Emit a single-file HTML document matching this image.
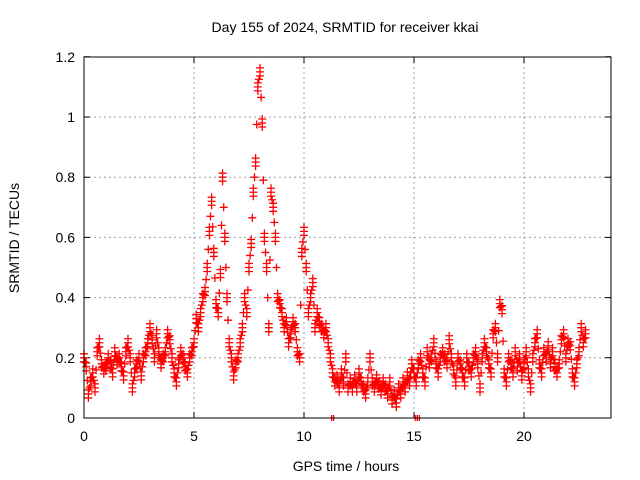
<!DOCTYPE html>
<html><head><meta charset="utf-8"><style>
body{margin:0;background:#fff}
svg{display:block;font-family:"Liberation Sans",sans-serif}
</style></head><body>
<svg id="chart" width="640" height="480" viewBox="0 0 640 480">
<rect width="640" height="480" fill="#fff"/>
<text x="345" y="32" font-size="14" text-anchor="middle">Day 155 of 2024, SRMTID for receiver kkai</text>
<text x="346" y="471" font-size="14" text-anchor="middle">GPS time / hours</text>
<text transform="translate(19,238) rotate(-90)" font-size="14" text-anchor="middle">SRMTID / TECUs</text>
<g id="grid"></g><g id="ticks"></g><g id="pts"></g>
<rect x="84" y="57" width="527" height="361" fill="none" stroke="#000" stroke-width="1"/>
</svg>
<script>
const xTicks=[0,5,10,15,20];
const yTicks=[0,0.2,0.4,0.6,0.8,1,1.2];
const yTickLabels=["0","0.2","0.4","0.6","0.8","1","1.2"];
const startHour=0;
const stepHours=0.1;
const values=[
0.2,0.17,0.08,0.12,0.15,0.1,0.22,0.25,0.18,0.16,
0.17,0.2,0.18,0.15,0.22,0.19,0.2,0.17,0.14,0.22,
0.25,0.2,0.1,0.15,0.18,0.2,0.14,0.2,0.22,0.25,
0.3,0.26,0.2,0.28,0.22,0.18,0.2,0.22,0.28,0.26,
0.2,0.15,0.12,0.18,0.22,0.2,0.17,0.15,0.2,0.22,
0.25,0.33,0.3,0.35,0.4,0.42,0.5,0.62,0.72,0.55,
0.38,0.35,0.48,0.8,0.6,0.4,0.25,0.2,0.14,0.18,
0.2,0.25,0.3,0.4,0.35,0.5,0.58,0.75,0.85,1.1,
1.15,0.98,0.6,0.5,0.3,0.75,0.7,0.6,0.4,0.38,
0.35,0.3,0.32,0.25,0.28,0.32,0.3,0.22,0.2,0.55,
0.62,0.5,0.35,0.4,0.45,0.3,0.35,0.32,0.3,0.28,
0.3,0.25,0.2,0.15,0.12,0.13,0.1,0.15,0.12,0.2,
0.1,0.12,0.1,0.13,0.1,0.15,0.12,0.1,0.08,0.12,
0.2,0.12,0.1,0.13,0.11,0.09,0.12,0.1,0.08,0.12,
0.06,0.08,0.05,0.1,0.08,0.12,0.1,0.14,0.12,0.18,
0.15,0.12,0.18,0.2,0.15,0.12,0.22,0.18,0.2,0.25,
0.18,0.15,0.2,0.22,0.2,0.18,0.26,0.2,0.16,0.12,
0.2,0.18,0.15,0.12,0.2,0.17,0.15,0.2,0.22,0.18,
0.1,0.2,0.25,0.22,0.18,0.15,0.28,0.3,0.2,0.38,
0.36,0.15,0.12,0.2,0.18,0.15,0.22,0.17,0.2,0.14,
0.18,0.22,0.15,0.1,0.2,0.25,0.28,0.18,0.15,0.22,
0.2,0.24,0.18,0.22,0.17,0.15,0.18,0.26,0.28,0.2,
0.25,0.24,0.15,0.12,0.18,0.22,0.3,0.25,0.28];
const zeroHours=[11.3,15.1,15.2];
const X=h=>84+h*22;
const Y=v=>418-v*301;
const NS="http://www.w3.org/2000/svg";
function mk(tag,attrs,parent){const e=document.createElementNS(NS,tag);for(const k in attrs)e.setAttribute(k,attrs[k]);document.getElementById(parent).appendChild(e);return e;}
xTicks.forEach(t=>{
  const x=X(t);
  if(t>0){const g=mk('line',{x1:x,x2:x,y1:57,y2:418,stroke:'#a0a0a0','stroke-dasharray':'2,3'},'grid');
  
  }
  const tk=mk('path',{d:`M${x},418v-6M${x},57v6`,stroke:'#000'},'ticks');
  
  
  const l=mk('text',{x:x,y:441,'font-size':'14','text-anchor':'middle'},'ticks');l.textContent=t;
  
  
});
yTicks.forEach((t,i)=>{
  const y=Y(t);
  if(t>0&&t<1.2){const g=mk('line',{x1:84,x2:611,y1:y,y2:y,stroke:'#a0a0a0','stroke-dasharray':'2,3'},'grid');
  
  }
  const tk=mk('path',{d:`M84,${y}h6M611,${y}h-6`,stroke:'#000'},'ticks');
  
  
  const l=mk('text',{x:75,y:y+5,'font-size':'14','text-anchor':'end'},'ticks');l.textContent=yTickLabels[i];
  
  
});
let d='';
function cross(x,y){d+=`M${x-4},${y}h8M${x},${y-4}v8`;}
values.forEach((v,i)=>{
  const x=X(startHour+i*stepHours);
  // cluster of crosses around each sample (marker stacking as in the original)
  cross(x,Y(v));cross(x,Y(v)-4);cross(x,Y(v)+4);
  if(i+1<values.length){
    const v2=values[i+1];
    const xm=X(startHour+(i+0.5)*stepHours);
    cross(xm,Y((v+v2)/2));
  }
});
zeroHours.forEach(h=>{const x=X(h),y=Y(0);d+=`M${x-1},${y-3}v6M${x+1},${y-3}v6`;});
const p=mk('path',{d:d,stroke:'#ff0000','stroke-width':'1.3',fill:'none'},'pts');


</script>
</body></html>
